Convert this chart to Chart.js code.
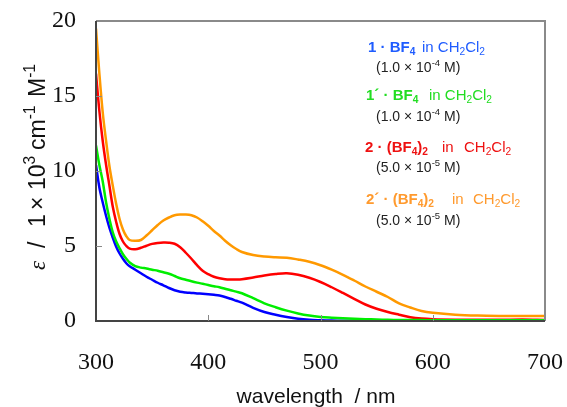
<!DOCTYPE html>
<html lang="en">
<head>
  <meta charset="UTF-8">
  <title>Absorption spectra</title>
  <script src="https://cdn.jsdelivr.net/npm/chart.js@4.4.0/dist/chart.umd.min.js"></script>
  <style>
    body { margin: 0; background: #fff; }
    #spectra { display: block; }
  </style>
</head>
<body>
  <canvas id="spectra" width="567" height="407"></canvas>

  <script>
    // wavelength grid (nm)
    const wavelengths = [300, 303, 306, 309, 312, 315, 318, 321, 324, 327, 330, 335, 340, 345, 350, 355, 360, 365, 370, 375,
      380, 385, 390, 395, 400, 405, 410, 415, 420, 425, 430, 440, 450, 460, 470, 480, 490, 500, 510, 520,
      530, 540, 550, 560, 570, 580, 590, 600, 620, 640, 660, 680, 700];

    // epsilon / 10^3 cm-1 M-1
    const blueBF4 = [10.4, 8.9, 7.9, 7.0, 6.2, 5.55, 4.95, 4.5, 4.15, 3.85, 3.65, 3.42, 3.18, 2.95, 2.75, 2.55, 2.38, 2.2, 2.05, 1.95,
      1.9, 1.87, 1.84, 1.82, 1.79, 1.75, 1.7, 1.6, 1.48, 1.35, 1.22, 0.88, 0.6, 0.42, 0.27, 0.15, 0.08, 0.05, 0.03, 0.02,
      0.02, 0.02, 0.02, 0.02, 0.02, 0.02, 0.02, 0.02, 0.02, 0.02, 0.02, 0.02, 0.02];
    const greenBF4 = [11.7, 10.4, 9.3, 7.9, 6.8, 5.9, 5.3, 4.85, 4.45, 4.15, 3.9, 3.66, 3.56, 3.5, 3.42, 3.35, 3.25, 3.15, 3.0, 2.85,
      2.75, 2.65, 2.56, 2.48, 2.4, 2.32, 2.25, 2.15, 2.05, 1.96, 1.85, 1.52, 1.18, 0.92, 0.69, 0.5, 0.36, 0.27, 0.22, 0.18,
      0.15, 0.12, 0.1, 0.08, 0.07, 0.06, 0.06, 0.05, 0.05, 0.05, 0.05, 0.05, 0.05];
    const redBF4 = [16.5, 14.0, 12.0, 10.4, 9.0, 7.6, 6.6, 5.8, 5.3, 5.0, 4.82, 4.78, 4.88, 5.02, 5.14, 5.2, 5.23, 5.22, 5.15, 4.92,
      4.55, 4.15, 3.72, 3.35, 3.12, 2.95, 2.85, 2.79, 2.77, 2.77, 2.79, 2.9, 3.03, 3.13, 3.18, 3.08, 2.88, 2.6, 2.25, 1.87,
      1.48, 1.1, 0.82, 0.6, 0.42, 0.25, 0.16, 0.12, 0.09, 0.08, 0.08, 0.1, 0.07];
    const orangeBF4 = [19.5, 16.5, 13.9, 12.0, 10.3, 9.0, 7.8, 6.8, 6.1, 5.65, 5.4, 5.35, 5.4, 5.7, 6.05, 6.4, 6.7, 6.9, 7.05, 7.1,
      7.1, 7.05, 6.9, 6.65, 6.35, 6.0, 5.7, 5.35, 5.05, 4.8, 4.6, 4.4, 4.3, 4.25, 4.22, 4.1, 3.95, 3.72, 3.42, 3.08,
      2.7, 2.3, 1.95, 1.6, 1.17, 0.9, 0.67, 0.55, 0.42, 0.36, 0.34, 0.34, 0.34];

    const xTicks = [300, 400, 500, 600, 700];
    const yTicks = [0, 5, 10, 15, 20];

    const SANS = '"Liberation Sans", Arial, sans-serif';
    const SERIF = '"Liberation Serif", "Times New Roman", serif';

    function pts(values) {
      return wavelengths.map((w, i) => ({ x: w, y: values[i] }));
    }

    // draw a line of text made of pieces (bold / sub / sup / italic)
    function drawRich(ctx, x, y, segs, size, color) {
      ctx.fillStyle = color;
      ctx.textBaseline = 'alphabetic';
      ctx.textAlign = 'left';
      segs.forEach(s => {
        if (s.at !== undefined) x = s.at;
        const sz = (s.sub || s.sup) ? size * 0.68 : size;
        ctx.font = (s.i ? 'italic ' : '') + (s.b ? 'bold ' : '') + sz + 'px ' + (s.f || SANS);
        const dy = s.sub ? size * 0.22 : (s.sup ? -size * 0.42 : 0);
        ctx.fillText(s.t, x, y + dy);
        x += ctx.measureText(s.t).width;
      });
      return x;
    }

    const labelLines = [
      { color: '#1f5cff', x: 368, y: 52, segs: [{ t: '1 \u00B7 BF', b: true }, { t: '4', b: true, sub: true }, { t: 'in CH', at: 422 }, { t: '2', sub: true }, { t: 'Cl' }, { t: '2', sub: true }] },
      { color: '#222', x: 376, y: 72, size: 14, segs: [{ t: '(1.0 \u00D7 10' }, { t: '-4', sup: true }, { t: ' M)' }] },
      { color: '#22dd22', x: 366, y: 100, segs: [{ t: '1\u00B4 \u00B7 BF', b: true }, { t: '4', b: true, sub: true }, { t: 'in CH', at: 429 }, { t: '2', sub: true }, { t: 'Cl' }, { t: '2', sub: true }] },
      { color: '#222', x: 376, y: 121, size: 14, segs: [{ t: '(1.0 \u00D7 10' }, { t: '-4', sup: true }, { t: ' M)' }] },
      { color: '#ee1111', x: 365, y: 152, segs: [{ t: '2 \u00B7 (BF', b: true }, { t: '4', b: true, sub: true }, { t: ')', b: true }, { t: '2', b: true, sub: true }, { t: 'in', at: 442 }, { t: 'CH', at: 464 }, { t: '2', sub: true }, { t: 'Cl' }, { t: '2', sub: true }] },
      { color: '#222', x: 376, y: 172, size: 14, segs: [{ t: '(5.0 \u00D7 10' }, { t: '-5', sup: true }, { t: ' M)' }] },
      { color: '#ff9a2e', x: 366, y: 204, segs: [{ t: '2\u00B4 \u00B7 ', b: true }, { t: '(BF', b: true }, { t: '4', b: true, sub: true }, { t: ')', b: true }, { t: '2', b: true, sub: true }, { t: 'in', at: 452 }, { t: 'CH', at: 473 }, { t: '2', sub: true }, { t: 'Cl' }, { t: '2', sub: true }] },
      { color: '#222', x: 376, y: 225, size: 14, segs: [{ t: '(5.0 \u00D7 10' }, { t: '-5', sup: true }, { t: ' M)' }] }
    ];

    // y title pieces, placed along the rotated baseline
    const yTitle = [
      { t: '\u03B5', i: true, f: SERIF, at: -110 }, { t: '/', at: -88 }, { t: '1', at: -67 }, { t: '\u00D7', at: -50 },
      { t: '10', at: -30 }, { t: '3', sup: true }, { t: 'cm', at: 10 }, { t: '-1', sup: true }, { t: 'M', at: 63 }, { t: '-1', sup: true }
    ];

    // frame, inward ticks, axis titles, in-plot labels
    const decorations = {
      id: 'decorations',
      afterDraw(chart) {
        const ctx = chart.ctx;
        const a = chart.chartArea;
        const xs = chart.scales.x, ys = chart.scales.y;
        ctx.save();

        ctx.strokeStyle = '#8a8a8a';
        ctx.lineWidth = 2;
        ctx.beginPath();
        ctx.moveTo(a.left, a.top); ctx.lineTo(a.right, a.top); ctx.lineTo(a.right, a.bottom);
        ctx.stroke();
        ctx.strokeStyle = '#444';
        ctx.beginPath();
        ctx.moveTo(a.left, a.top); ctx.lineTo(a.left, a.bottom); ctx.lineTo(a.right, a.bottom);
        ctx.stroke();

        ctx.strokeStyle = '#888';
        ctx.lineWidth = 1;
        ctx.beginPath();
        xTicks.slice(1, -1).forEach(v => {
          const px = Math.round(xs.getPixelForValue(v)) + 0.5;
          ctx.moveTo(px, a.bottom); ctx.lineTo(px, a.bottom - 6);
        });
        yTicks.slice(1, -1).forEach(v => {
          const py = Math.round(ys.getPixelForValue(v)) + 0.5;
          ctx.moveTo(a.left, py); ctx.lineTo(a.left + 6, py);
        });
        ctx.stroke();

        // x title
        ctx.fillStyle = '#111';
        ctx.font = '21px ' + SANS;
        ctx.textAlign = 'center';
        ctx.textBaseline = 'alphabetic';
        ctx.fillText('wavelength  / nm', 316, 403);

        // y title, rotated
        ctx.save();
        ctx.translate(45, 160);
        ctx.rotate(-Math.PI / 2);
        drawRich(ctx, 0, 0, yTitle, 23, '#111');
        ctx.restore();

        labelLines.forEach(l => drawRich(ctx, l.x, l.y, l.segs, l.size || 15, l.color));
        ctx.restore();
      }
    };

    new Chart(document.getElementById('spectra'), {
      type: 'line',
      data: {
        datasets: [
          { label: "1'BF4", data: pts(greenBF4), borderColor: '#00ee00' },
          { label: '1BF4', data: pts(blueBF4), borderColor: '#0000ff' },
          { label: '2(BF4)2', data: pts(redBF4), borderColor: '#ff0000' },
          { label: "2'(BF4)2", data: pts(orangeBF4), borderColor: '#ff9900' }
        ].map(d => Object.assign(d, { borderWidth: 2.5, pointRadius: 0, fill: false, tension: 0.35 }))
      },
      options: {
        responsive: false,
        animation: false,
        layout: { padding: { left: 0, top: 21, right: 22, bottom: 0 } },
        plugins: { legend: { display: false }, title: { display: false }, tooltip: { enabled: false } },
        scales: {
          x: {
            type: 'linear', min: 300, max: 700,
            grid: { display: false }, border: { display: false },
            afterBuildTicks: s => { s.ticks = xTicks.map(v => ({ value: v })); },
            afterFit: s => { s.height = 86; s.paddingLeft = 0; s.paddingRight = 0; },
            ticks: { color: '#111', font: { family: SERIF, size: 24 }, padding: 19, maxRotation: 0 }
          },
          y: {
            min: 0, max: 20,
            grid: { display: false }, border: { display: false },
            afterBuildTicks: s => { s.ticks = yTicks.map(v => ({ value: v })); },
            afterFit: s => { s.width = 96; s.paddingTop = 0; s.paddingBottom = 0; },
            ticks: { color: '#111', font: { family: SERIF, size: 24 }, padding: 12 }
          }
        }
      },
      plugins: [decorations]
    });
  </script>
</body>
</html>
